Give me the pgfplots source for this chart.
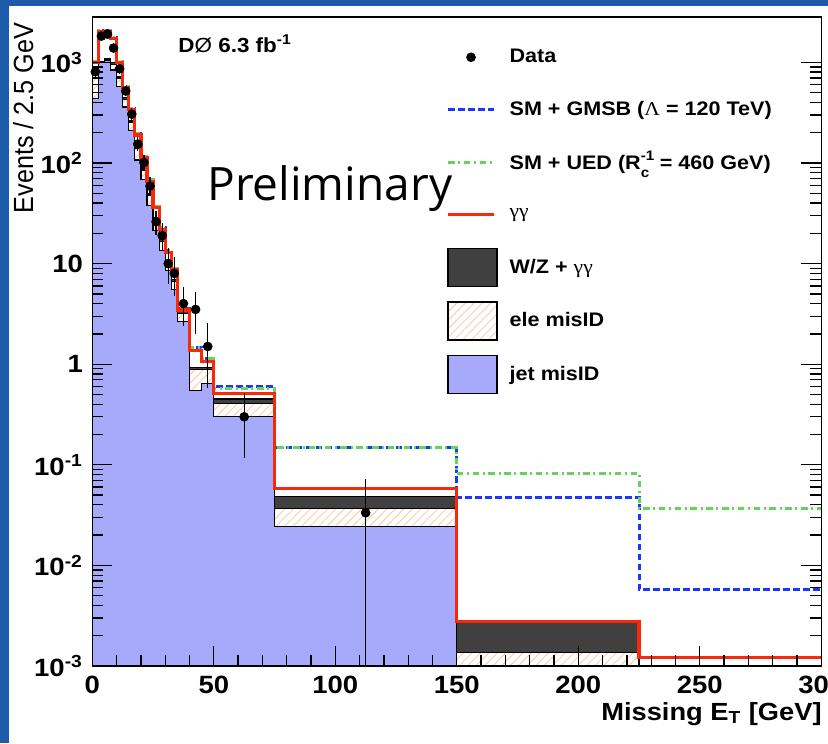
\documentclass[border=0pt]{standalone}
\usepackage{fontspec}
\usepackage{graphicx}
\usepackage{pgfplots}
\pgfplotsset{compat=1.18}
\usepackage{pgfplotstable}
\usetikzlibrary{patterns.meta}

\setmainfont{Liberation Sans}[FakeStretch=1.1]
\newfontfamily\plainsans{Liberation Sans}
\newfontfamily\greekfont{Liberation Serif}[FakeStretch=1.1]
\newfontfamily\prelimfont{Open Sans}

% compactification radius with stacked super/subscript
\newcommand{\Rc}{R\rlap{\raisebox{0.45em}{\fontsize{6.9}{7}\selectfont -1}}%
  \raisebox{-0.4em}{\fontsize{6.9}{7}\selectfont c}\hspace{2.3pt}}

\definecolor{jetblue}{RGB}{167,169,250}
\definecolor{wzgray}{RGB}{64,64,64}
\definecolor{hatchorange}{RGB}{250,198,165}
\definecolor{gglred}{RGB}{250,40,10}
\definecolor{gmsbblue}{RGB}{25,55,255}
\definecolor{uedgreen}{RGB}{100,212,90}
\definecolor{slideblue}{RGB}{30,90,170}

% Stacked backgrounds (cumulative tops), per 2.5 GeV; x = low bin edge
\pgfplotstableread{
x     jet     ele     wz      red     gmsb    ued
0     440     980     990     1000    1030    1030
2.5   990     1010    1020    2000    2060    2060
5     1050    1070    1080    2000    2060    2060
7.5   840     960     990     1730    1780    1780
10    575     700     730     1000    1030    1030
12.5  360     430     450     560     577     577
15    210     255     265     340     350     350
17.5  107     140     147     190     196     196
20    68      85      89      112     115     115
22.5  38      48      50      66      68      68
25    21.5    27      28.5    36      37      37
27.5  13.5    16.5    17.5    22      22.7    22.7
30    8.5     10      10.6    13      13.4    13.4
32.5  5.5     6.6     7       8.7     9       9
35    2.64    3.2     3.35    3.45    3.6     3.6
40    0.55    0.88    0.93    1.38    1.48    1.46
45    0.64    0.88    0.93    1.06    1.15    1.13
50    0.30    0.407   0.45    0.51    0.60    0.57
75    0.0242  0.0369  0.048   0.058   0.150   0.148
150   0.00001 0.00135 0.00275 0.00275 0.0474  0.0822
225   0.00001 0.00001 0.00001 0.00121 0.00577 0.0369
300   0.00001 0.00001 0.00001 0.00121 0.00577 0.0369
}\bkgtable

% Data with Poisson errors
\pgfplotstableread{
x      y        eyp      eym
1.25   807      28.4     28.4
3.75   1825     42.7     42.7
6.25   1910     43.7     43.7
8.75   1388     37.3     37.3
11.25  864      29.4     29.4
13.75  519      22.8     22.8
16.25  306      17.5     17.5
18.75  154      12.4     12.4
21.25  101      10.0     10.0
23.75  59       7.7      7.7
26.25  26       5.1      5.1
28.75  19       4.36     4.36
31.25  10       3.16     3.16
33.75  8        2.83     2.83
37.5   4        1.41     1.41
42.5   3.5      1.32     1.32
47.5   1.5      0.87     0.87
62.5   0.3      0.173    0.173
112.5  0.03333  0.03333  0.03332
}\datatable

\begin{document}
\begin{tikzpicture}
\path[use as bounding box] (0,0) rectangle (414pt,371.5pt);
\fill[white] (0,0) rectangle (414pt,371.5pt);
\fill[slideblue] (0,0) rectangle (4.5pt,371.5pt);
\fill[slideblue] (0,368.5pt) rectangle (414pt,371.5pt);
\begin{axis}[
  at={(46.15pt,38.5pt)}, anchor=south west,
  scale only axis, width=364.5pt, height=324.5pt,
  xmin=0, xmax=300, ymode=log, ymin=1e-3, ymax=2826,
  log origin y=infty,
  axis on top,
  axis line style={line width=0.65pt},
  tick style={black, line width=0.65pt},
  major tick length=10pt, minor tick length=5.5pt,
  xtick={0,50,...,300}, xticklabels={0,50,100,150,200,250,300},
  minor x tick num=4,
  ytick={1e-3,1e-2,1e-1,1,10,100,1000},
  yticklabels={10\textsuperscript{-3},10\textsuperscript{-2},10\textsuperscript{-1},1,10,10\textsuperscript{2},10\textsuperscript{3}},
  xtick pos=left, ytick pos=both,
  ticklabel style={font=\fontsize{12.5}{14}\selectfont\bfseries},
  xticklabel style={anchor=north, inner sep=0pt},
  yticklabel style={anchor=east, inner sep=0pt},
  xticklabel shift=5pt, yticklabel shift=4.5pt,
  xlabel={Missing E\textsubscript{T} [GeV]},
  xlabel style={at={(rel axis cs:1.001,-0.0832)}, anchor=base east, inner sep=0pt,
    font=\fontsize{12.4}{14}\selectfont\bfseries},
  ylabel={\scalebox{1}[1.1]{Events / 2.5 GeV}},
  ylabel style={at={(rel axis cs:-0.0813,0.992)}, anchor=base east, inner sep=0pt,
    font=\plainsans\fontsize{12.6}{14}\selectfont},
  legend cell align=left,
  legend style={draw=none, fill=none, at={(rel axis cs:0.477,0.974)}, anchor=north west,
    row sep=7.2pt, column sep=6pt, nodes={inner sep=0pt},
    font=\fontsize{9.8}{11}\selectfont\bfseries},
]
% stacked backgrounds, painted from the top of the stack down
\addplot[forget plot, const plot, fill=wzgray, draw=black, line width=0.6pt]
  table[x=x, y=wz]{\bkgtable} \closedcycle;
\addplot[forget plot, const plot, draw=black, line width=0.6pt, preaction={fill=white},
  pattern={Lines[angle=45,distance=3pt,line width=0.4pt]}, pattern color=hatchorange]
  table[x=x, y=ele]{\bkgtable} \closedcycle;
\addplot[forget plot, const plot, fill=jetblue, draw=black, line width=0.6pt]
  table[x=x, y=jet]{\bkgtable} \closedcycle;
% signal hypotheses on top of SM
\addplot[forget plot, const plot, gmsbblue, line width=1.5pt, dash pattern=on 3.3pt off 1.7pt]
  table[x=x, y=gmsb]{\bkgtable};
\addplot[forget plot, const plot, uedgreen, line width=1.5pt,
  dash pattern=on 3.3pt off 1.8pt on 1pt off 1.8pt]
  table[x=x, y=ued]{\bkgtable};
% total SM (gamma gamma on top of the stack)
\addplot[forget plot, const plot, gglred, line width=1.6pt]
  table[x=x, y=red]{\bkgtable};
% data
\addplot[forget plot, only marks, mark=*, mark size=2.2pt, black,
  error bars/.cd, y dir=both, y explicit,
  error bar style={line width=0.6pt, black},
  error mark options={mark size=1.75pt, line width=0.6pt, black}]
  table[x=x, y=y, y error plus=eyp, y error minus=eym]{\datatable};

% legend
\addlegendimage{legend image code/.code={\path[draw=none, fill=none] (0pt,-9.5pt) rectangle (24.5pt,9.5pt);
  \fill[black] (11.5pt,0pt) circle (2.2pt);}}
\addlegendentry{Data}
\addlegendimage{legend image code/.code={\path[draw=none, fill=none] (0pt,-9.5pt) rectangle (24.5pt,9.5pt);
  \draw[gmsbblue, line width=1.5pt, dash pattern=on 3.3pt off 1.7pt] (0pt,0pt) -- (23pt,0pt);}}
\addlegendentry{SM + GMSB ({\greekfont\mdseries Λ} = 120 TeV)}
\addlegendimage{legend image code/.code={\path[draw=none, fill=none] (0pt,-9.5pt) rectangle (24.5pt,9.5pt);
  \draw[uedgreen, line width=1.5pt, dash pattern=on 3.3pt off 1.8pt on 1pt off 1.8pt] (0pt,0pt) -- (23pt,0pt);}}
\addlegendentry{SM + UED (\Rc{} = 460 GeV)}
\addlegendimage{legend image code/.code={\path[draw=none, fill=none] (0pt,-9.5pt) rectangle (24.5pt,9.5pt);
  \draw[gglred, line width=1.6pt] (0pt,0pt) -- (23pt,0pt);}}
\addlegendentry{{\greekfont\mdseries γγ}}
\addlegendimage{legend image code/.code={
  \draw[fill=wzgray, line width=0.6pt] (0pt,-9.5pt) rectangle (24.5pt,9.5pt);}}
\addlegendentry{W/Z + {\greekfont\mdseries γγ}}
\addlegendimage{legend image code/.code={
  \fill[white] (0pt,-9.5pt) rectangle (24.5pt,9.5pt);
  \fill[pattern={Lines[angle=45,distance=3pt,line width=0.4pt]}, pattern color=hatchorange] (0pt,-9.5pt) rectangle (24.5pt,9.5pt);
  \draw[line width=0.6pt] (0pt,-9.5pt) rectangle (24.5pt,9.5pt);}}
\addlegendentry{ele misID}
\addlegendimage{legend image code/.code={
  \draw[fill=jetblue, line width=0.6pt] (0pt,-9.5pt) rectangle (24.5pt,9.5pt);}}
\addlegendentry{jet misID}

\node[anchor=base west, inner sep=0pt, font=\fontsize{10.2}{12}\selectfont\bfseries]
  at (rel axis cs:0.1176,0.946) {D{\mdseries Ø} 6.3 fb\textsuperscript{-1}};
\node[anchor=base west, inner sep=0pt, font=\prelimfont\fontsize{23}{26}\selectfont]
  at (rel axis cs:0.1573,0.718) {Preliminary};
\end{axis}
\end{tikzpicture}
\end{document}
